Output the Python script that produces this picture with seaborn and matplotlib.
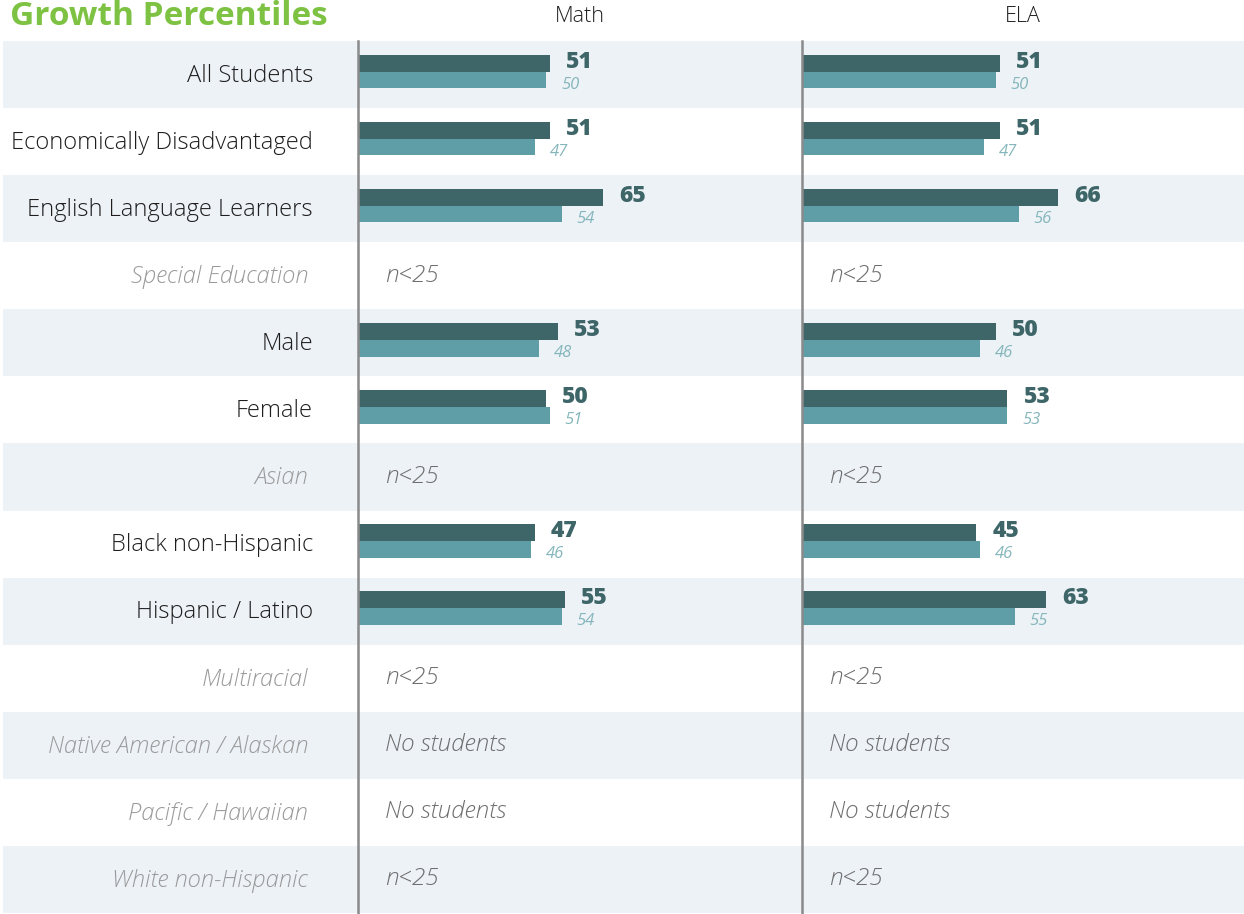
import matplotlib
matplotlib.use("Agg")
import matplotlib.pyplot as plt
import seaborn as sns
import pandas as pd
import numpy as np

groups = ["All Students", "Economically Disadvantaged", "English Language Learners",
          "Special Education", "Male", "Female", "Asian", "Black non-Hispanic",
          "Hispanic / Latino", "Multiracial", "Native American / Alaskan",
          "Pacific / Hawaiian", "White non-Hispanic"]
# None = no bar; note explains why
math_school = [51, 51, 65, None, 53, 50, None, 47, 55, None, None, None, None]
math_compare = [50, 47, 54, None, 48, 51, None, 46, 54, None, None, None, None]
ela_school = [51, 51, 66, None, 50, 53, None, 45, 63, None, None, None, None]
ela_compare = [50, 47, 56, None, 46, 53, None, 46, 55, None, None, None, None]
notes = [None, None, None, "n<25", None, None, "n<25", None, None, "n<25",
         "No students", "No students", "n<25"]
series = ["School", "Comparison"]

sns.set_theme(style="white")
plt.rcParams['font.family'] = ['Open Sans', 'DejaVu Sans']

W, H = 1244, 914
fig = plt.figure(figsize=(W / 100, H / 100), dpi=100)

top_px, bot_px = 41, 913
n = len(groups)
ax_bottom = 1 - bot_px / H
ax_height = (bot_px - top_px) / H

# background band axes
bg = fig.add_axes([3 / W, ax_bottom, (W - 3) / W, ax_height])
bg.set_xlim(0, 1)
bg.set_ylim(n - 0.5, -0.5)
bg.axis("off")
for i in range(n):
    if i % 2 == 0:
        bg.axhspan(i - 0.5, i + 0.5, color="#edf2f7", lw=0, zorder=0)

label_x = (313 - 3) / (W - 3)
for i, g in enumerate(groups):
    missing = notes[i] is not None
    bg.text(label_x - (0.004 if missing else 0), i + 0.02, g, ha="right", va="center",
            fontsize=17.1, color="#9a9a9a" if missing else "#1e1e1e",
            style="italic" if missing else "normal", fontweight="light")

fig.text(10 / W, 1 - 25 / H, "Growth Percentiles", ha="left", va="baseline",
         fontsize=24, fontweight="bold", color="#7dc242")

panels = [("Math", 358, 802, math_school, math_compare, 117.8),
          ("ELA", 802, 1244, ela_school, ela_compare, 114.0)]

dark, light = "#3e6668", "#5f9ea6"
shift = 0.045
for title, x0, x1, sch, cmp_, xmax in panels:
    ax = fig.add_axes([x0 / W, ax_bottom, (x1 - x0) / W, ax_height])
    ax.patch.set_alpha(0)
    rows = []
    for g, a, b in zip(groups, sch, cmp_):
        if a is not None:
            rows.append({"group": g, "series": series[0], "value": a})
            rows.append({"group": g, "series": series[1], "value": b})
    df = pd.DataFrame(rows)
    sns.barplot(data=df, y="group", x="value", hue="series", order=groups,
                hue_order=series, palette=[dark, light], orient="h",
                width=0.5, ax=ax, legend=False, errorbar=None,
                linewidth=0, saturation=1)
    ax.set_xlim(0, xmax)
    ax.set_ylim(n - 0.5 + shift, -0.5 + shift)
    for sp in ["top", "right", "bottom"]:
        ax.spines[sp].set_visible(False)
    ax.spines["left"].set_color("#8a8a8a")
    ax.spines["left"].set_linewidth(1.8)
    ax.set_xticks([])
    ax.set_yticks([])
    ax.set_xlabel("")
    ax.set_ylabel("")
    for i, (a, b, note) in enumerate(zip(sch, cmp_, notes)):
        if a is not None:
            ax.annotate(str(a), xy=(a, i - 0.125), xytext=(11.5, 1.0),
                        textcoords="offset points", ha="left", va="center",
                        fontsize=16.5, fontweight="heavy", color=dark)
            ax.annotate(str(b), xy=(b, i + 0.125), xytext=(10.5, -3.5),
                        textcoords="offset points", ha="left", va="center",
                        fontsize=12, style="italic", color="#84b6bb")
        else:
            ax.annotate(note, xy=(0, i + shift), xytext=(19.5, 0),
                        textcoords="offset points", ha="left", va="center",
                        fontsize=17.5, style="italic", fontweight="light",
                        color="#6e6e6e")
    fig.text((x0 + x1) / 2 / W, 1 - 17 / H, title, ha="center", va="center",
             fontsize=15.6, fontweight="light", color="#222222")

fig.savefig("out.png", dpi=100)
